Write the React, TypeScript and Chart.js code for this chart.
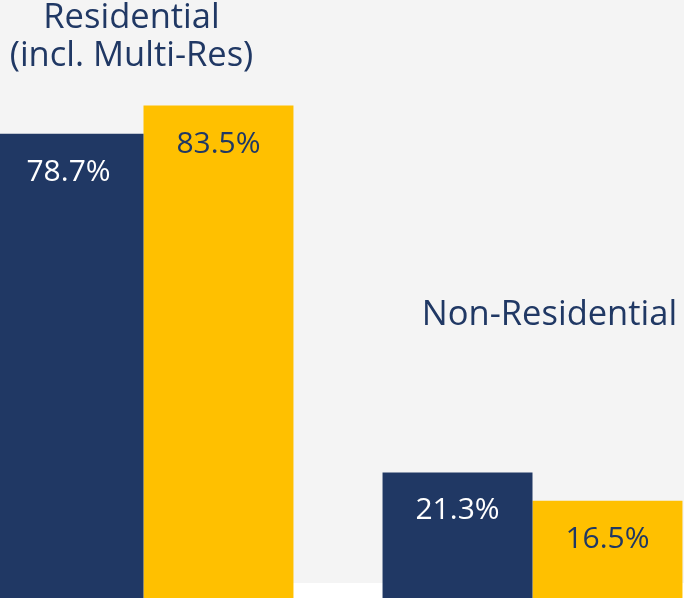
import React, { useEffect, useRef } from "react";
import { Chart, registerables } from "chart.js";

Chart.register(...registerables);

const categories = ["Residential (incl. Multi-Res)", "Non-Residential"];
const categoryLines = [["Residential", "(incl. Multi-Res)"], ["Non-Residential"]];
const seriesNames = ["Series A", "Series B"];
const seriesA = [78.7, 21.3];
const seriesB = [83.5, 16.5];
// y value (data units) of the baseline of each category label's last line
const labelAnchorValues = [90.2, 46.3];

const NAVY = "#203864";
const GOLD = "#FFC000";
const FONT = "'Open Sans', 'Segoe UI', sans-serif";

const bgPlugin = {
  id: "bgPlugin",
  beforeDraw(chart: any) {
    const { ctx, chartArea, width } = chart;
    ctx.save();
    ctx.fillStyle = "#f4f4f4";
    ctx.fillRect(0, 0, width, chartArea.bottom - 15);
    ctx.restore();
  },
};

const labelPlugin = {
  id: "labelPlugin",
  afterDatasetsDraw(chart: any) {
    const { ctx } = chart;
    const yScale = chart.scales.y;
    ctx.save();
    ctx.textAlign = "center";
    ctx.textBaseline = "alphabetic";
    ctx.font = `30px ${FONT}`;
    chart.data.datasets.forEach((ds: any, di: number) => {
      const meta = chart.getDatasetMeta(di);
      meta.data.forEach((bar: any, i: number) => {
        const v = ds.data[i];
        ctx.fillStyle = di === 0 ? "#ffffff" : NAVY;
        ctx.fillText(v.toFixed(1) + "%", bar.x, bar.y + 47);
      });
    });
    const xScale = chart.scales.x;
    const dxs = [-12, 17];
    ctx.fillStyle = NAVY;
    ctx.font = `34.5px ${FONT}`;
    categoryLines.forEach((lines, i) => {
      const cx = xScale.getPixelForValue(i) + dxs[i];
      const baseY = yScale.getPixelForValue(labelAnchorValues[i]);
      const lh = 38;
      lines.forEach((ln, li) => {
        ctx.fillText(ln, cx, baseY - (lines.length - 1 - li) * lh);
      });
    });
    ctx.restore();
  },
};

export default function App() {
  const ref = useRef<HTMLCanvasElement | null>(null);
  useEffect(() => {
    if (!ref.current) return;
    const chart = new Chart(ref.current, {
      type: "bar",
      data: {
        labels: categories,
        datasets: [
          { label: seriesNames[0], data: seriesA, backgroundColor: NAVY, borderWidth: 0, barPercentage: 1, categoryPercentage: 0.771 },
          { label: seriesNames[1], data: seriesB, backgroundColor: GOLD, borderWidth: 0, barPercentage: 1, categoryPercentage: 0.771 },
        ],
      },
      options: {
        responsive: false,
        animation: false,
        layout: { padding: 0 },
        plugins: { legend: { display: false }, tooltip: { enabled: false } },
        scales: {
          x: { display: false },
          y: { display: false, min: 0, max: 101.4 },
        },
      },
      plugins: [bgPlugin, labelPlugin],
    });
    return () => chart.destroy();
  }, []);
  return (
    <div style={{ position: "fixed", left: 0, top: 0, width: 684, height: 598, overflow: "hidden", background: "#ffffff" }}>
      <canvas ref={ref} width={778} height={598} style={{ position: "absolute", left: -51, top: 0, width: 778, height: 598 }} />
    </div>
  );
}
